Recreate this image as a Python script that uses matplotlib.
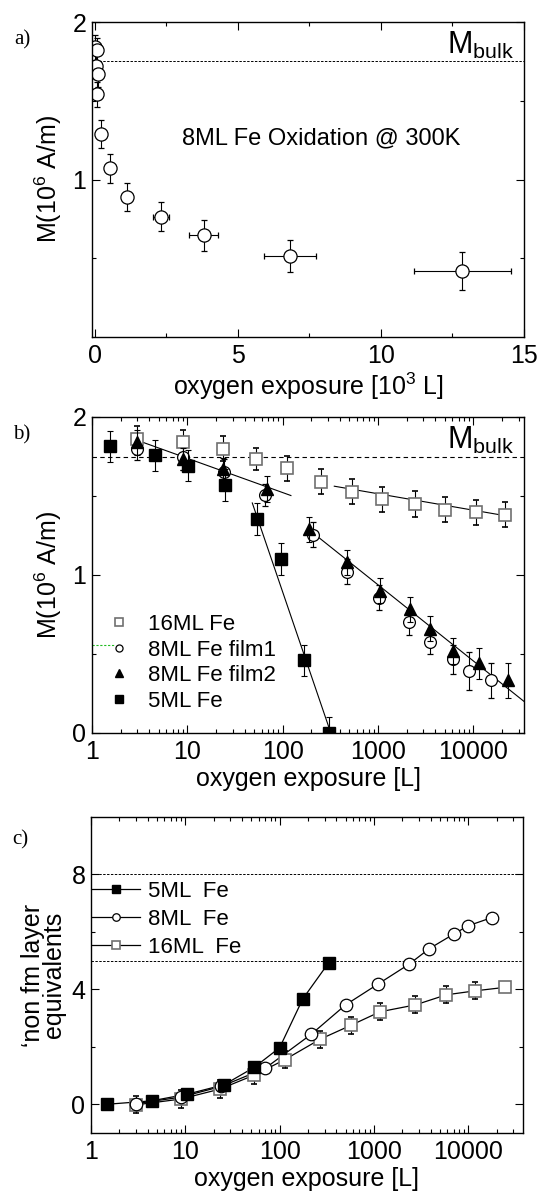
import numpy as np
import matplotlib
matplotlib.use("Agg")
import matplotlib.pyplot as plt
from matplotlib.ticker import MultipleLocator, LogLocator, NullFormatter, FixedLocator, FixedFormatter

plt.rcParams['font.family'] = ['Liberation Sans', 'DejaVu Sans']
plt.rcParams['mathtext.default'] = 'regular'
plt.rcParams['font.size'] = 18

# ---- panel a: 8ML Fe, linear exposure [10^3 L]
a_exp = [0.01, 0.06, 0.04, 0.10, 0.08, 0.22, 0.54, 1.12, 2.30, 3.80, 6.82, 12.84]
a_M = [1.84, 1.82, 1.72, 1.67, 1.54, 1.29, 1.07, 0.89, 0.765, 0.645, 0.515, 0.42]
a_xerr = [0.02, 0.03, 0.03, 0.04, 0.05, 0.06, 0.06, 0.07, 0.28, 0.50, 0.91, 1.70]
a_yerr = [0.08, 0.08, 0.08, 0.08, 0.08, 0.09, 0.09, 0.09, 0.09, 0.10, 0.10, 0.12]
M_bulk = 1.75

# ---- panel b: M vs exposure [L]
b16_exp = [3.0, 9.0, 23.4, 52, 111, 250, 533, 1090, 2440, 5100, 10600, 21300]
b16_M = [1.862, 1.84, 1.80, 1.735, 1.676, 1.59, 1.528, 1.48, 1.45, 1.414, 1.397, 1.382]
b16_err = [0.08, 0.08, 0.08, 0.07, 0.08, 0.08, 0.08, 0.08, 0.08, 0.08, 0.08, 0.08]
b16_xerr = [0.3, 0.9, 2.3, 5, 11, 25, 53, 110, 245, 510, 1060, 2130]

bf1_exp = [3.0, 9.0, 24, 66, 208, 470, 1020, 2125, 3550, 6130, 9000, 15400]
bf1_M = [1.80, 1.746, 1.655, 1.507, 1.255, 1.02, 0.857, 0.70, 0.578, 0.466, 0.39, 0.333]
bf1_err = [0.07, 0.08, 0.08, 0.07, 0.08, 0.08, 0.08, 0.08, 0.08, 0.09, 0.12, 0.11]

bf2_exp = [3.0, 8.9, 23.6, 67.7, 191, 470, 1040, 2160, 3550, 6130, 11500, 23000]
bf2_M = [1.84, 1.735, 1.672, 1.545, 1.29, 1.08, 0.90, 0.783, 0.66, 0.519, 0.44, 0.333]
bf2_err = [0.08, 0.07, 0.07, 0.08, 0.08, 0.08, 0.08, 0.08, 0.08, 0.08, 0.10, 0.11]

b5_exp = [1.53, 4.59, 10.2, 25, 54, 97, 167, 305]
b5_M = [1.814, 1.757, 1.693, 1.57, 1.355, 1.10, 0.46, 0.0]
b5_err = [0.10, 0.10, 0.10, 0.10, 0.10, 0.10, 0.10, 0.10]

# linear-in-log fits drawn through the data
fit1_exp, fit1_M = [3.0, 122], [1.852, 1.503]
fit5_exp, fit5_M = [48, 320], [1.456, 0.0]
fit8_exp, fit8_M = [195, 34000], [1.28, 0.20]
fit16_exp, fit16_M = [348, 21300], [1.562, 1.376]

# ---- panel c: non fm layer equivalents
c5_exp = [1.48, 4.4, 10.4, 25.8, 54, 100, 176, 330]
c5_N = [0.0, 0.12, 0.35, 0.68, 1.29, 1.97, 3.67, 4.92]
c8_exp = [3.0, 9.0, 24, 70, 217, 500, 1110, 2340, 3870, 6970, 9900, 17800]
c8_N = [0.02, 0.25, 0.62, 1.25, 2.44, 3.46, 4.19, 4.87, 5.42, 5.92, 6.21, 6.50]
c8_err = [0.1, 0.1, 0.1, 0.1, 0.1, 0.1, 0.1, 0.1, 0.1, 0.1, 0.1, 0.1]
c16_exp = [2.98, 8.9, 23.4, 54, 113, 267, 570, 1160, 2750, 5840, 11900, 24500]
c16_N = [-0.02, 0.18, 0.53, 1.02, 1.55, 2.26, 2.75, 3.22, 3.46, 3.81, 3.95, 4.07]
c16_err = [0.3, 0.3, 0.3, 0.3, 0.3, 0.3, 0.3, 0.3, 0.3, 0.3, 0.3, 0.0]
c_levels = [8, 5]

gray = '#707070'
fig = plt.figure(figsize=(5.38, 11.96), dpi=100)
W, H = 538.0, 1196.0


def box(l, r, t, b):
    return [l / W, 1 - b / H, (r - l) / W, (b - t) / H]


def style(ax):
    ax.tick_params(which='both', direction='in', top=True, right=True, width=0.8)
    ax.tick_params(which='major', length=6)
    ax.tick_params(which='minor', length=3)
    ax.tick_params(axis='x', pad=5)
    ax.tick_params(axis='y', pad=4)
    for s in ax.spines.values():
        s.set_linewidth(1.0)


# ---------------- a)
ax = fig.add_axes(box(92, 524, 22, 337))
style(ax)
ax.errorbar(a_exp, a_M, yerr=a_yerr, xerr=a_xerr, fmt='o', ms=9.5, mfc='white',
            mec='black', mew=0.9, color='black', elinewidth=0.8, capsize=2.5, capthick=0.8)
ax.axhline(M_bulk, color='black', lw=0.7, ls=(0, (2.5, 1.5)), xmin=0.006)
ax.text(0.977, M_bulk + 0.045, r'M$_{bulk}$', transform=ax.get_yaxis_transform(),
        ha='right', va='baseline', fontsize=22)
ax.text(0.53, 0.63, '8ML Fe Oxidation @ 300K', transform=ax.transAxes,
        ha='center', va='center', fontsize=17)
ax.set_xlim(-0.1, 15)
ax.set_ylim(0, 2)
ax.xaxis.set_major_locator(MultipleLocator(5))
ax.xaxis.set_minor_locator(MultipleLocator(2.5))
ax.yaxis.set_major_locator(FixedLocator([1, 2]))
ax.yaxis.set_minor_locator(FixedLocator([0.5, 1.5]))
ax.set_xlabel('oxygen exposure [10$^3$ L]', labelpad=2)
ax.set_ylabel('M(10$^6$ A/m)', labelpad=6)
fig.text(22 / W, 1 - 40 / H, 'a)', family='Liberation Serif', fontsize=15, ha='center', va='center')

# ---------------- b)
ax = fig.add_axes(box(92, 524, 417, 733))
style(ax)
ax.set_xscale('log')
for fx, fy in [(fit1_exp, fit1_M), (fit5_exp, fit5_M), (fit8_exp, fit8_M), (fit16_exp, fit16_M)]:
    ax.plot(fx, fy, color='black', lw=0.8, zorder=1)
ax.axhline(M_bulk, color='black', lw=0.8, ls=(0, (4, 3)), zorder=1)
ek = dict(color='black', elinewidth=0.8, capsize=2.5, capthick=0.8, linestyle='none')
h16 = ax.errorbar(b16_exp, b16_M, yerr=b16_err, xerr=b16_xerr, marker='s', ms=8.5, mfc='white',
                  mec=gray, mew=1.2, zorder=3, **ek)
h1 = ax.errorbar(bf1_exp, bf1_M, yerr=bf1_err, marker='o', ms=8.5, mfc='white',
                 mec='black', mew=0.9, zorder=3, **ek)
h2 = ax.errorbar(bf2_exp, bf2_M, yerr=bf2_err, marker='^', ms=9, mfc='black',
                 mec='black', zorder=4, **ek)
h5 = ax.errorbar(b5_exp, b5_M, yerr=b5_err, marker='s', ms=8.5, mfc='black',
                 mec='black', zorder=4, **ek)
ax.text(0.977, M_bulk + 0.045, r'M$_{bulk}$', transform=ax.get_yaxis_transform(),
        ha='right', va='baseline', fontsize=22)
leg = ax.legend([h16[0], h1[0], h2[0], h5[0]],
                ['16ML Fe', '8ML Fe film1', '8ML Fe film2', '5ML Fe'],
                loc='upper left', bbox_to_anchor=(0.0, 0.425), frameon=False,
                markerscale=0.6, handlelength=1.0, handletextpad=0.8,
                labelspacing=0.2, borderaxespad=0.3, fontsize=16)
ax.plot([0.0, 0.05], [0.278, 0.278], transform=ax.transAxes, color='#22bb22',
        lw=0.8, ls=(0, (2, 1.5)), clip_on=False)
ax.set_xlim(1, 34000)
ax.set_ylim(0, 2)
ax.xaxis.set_major_locator(FixedLocator([1, 10, 100, 1000, 10000]))
ax.xaxis.set_major_formatter(FixedFormatter(['1', '10', '100', '1000', '10000']))
ax.xaxis.set_minor_locator(LogLocator(base=10, subs=np.arange(2, 10), numticks=20))
ax.xaxis.set_minor_formatter(NullFormatter())
ax.yaxis.set_major_locator(FixedLocator([0, 1, 2]))
ax.yaxis.set_minor_locator(FixedLocator([0.5, 1.5]))
ax.set_xlabel('oxygen exposure [L]', labelpad=2)
ax.set_ylabel('M(10$^6$ A/m)', labelpad=6)
fig.text(22 / W, 1 - 435 / H, 'b)', family='Liberation Serif', fontsize=15, ha='center', va='center')

# ---------------- c)
ax = fig.add_axes(box(91, 523, 817, 1133))
style(ax)
ax.set_xscale('log')
for lv in c_levels:
    ax.axhline(lv, color='black', lw=0.7, ls=(0, (2.5, 1.5)), zorder=1)
ax.plot(c5_exp, c5_N, color='black', lw=0.9, zorder=2)
ax.plot(c8_exp, c8_N, color='black', lw=0.9, zorder=2)
ax.plot(c16_exp, c16_N, color='black', lw=0.9, zorder=2)
ax.errorbar(c16_exp, c16_N, yerr=c16_err, fmt='s', ms=9, mfc='white', mec=gray, mew=1.2,
            color='black', elinewidth=0.8, capsize=2.5, capthick=0.8, zorder=3)
ax.errorbar(c8_exp, c8_N, yerr=c8_err, fmt='o', ms=9, mfc='white', mec='black', mew=0.9,
            color='black', elinewidth=0.8, capsize=2.5, capthick=0.8, zorder=3)
ax.plot(c5_exp, c5_N, 's', ms=9, mfc='black', mec='black', zorder=4)
l5, = ax.plot([], [], '-s', color='black', lw=0.9, ms=9, mfc='black')
l8, = ax.plot([], [], '-o', color='black', lw=0.9, ms=9, mfc='white', mew=0.9)
l16, = ax.plot([], [], '-s', color='black', lw=0.9, ms=9, mfc='white', mec=gray, mew=1.2)
ax.legend([l5, l8, l16], ['5ML  Fe', '8ML  Fe', '16ML  Fe'], loc='upper left',
          bbox_to_anchor=(-0.045, 0.86), frameon=False, markerscale=0.6,
          handlelength=2.2, handletextpad=0.35, labelspacing=0.3, fontsize=16)
ax.set_xlim(1, 38000)
ax.set_ylim(-1, 10)
ax.xaxis.set_major_locator(FixedLocator([1, 10, 100, 1000, 10000]))
ax.xaxis.set_major_formatter(FixedFormatter(['1', '10', '100', '1000', '10000']))
ax.xaxis.set_minor_locator(LogLocator(base=10, subs=np.arange(2, 10), numticks=20))
ax.xaxis.set_minor_formatter(NullFormatter())
ax.yaxis.set_major_locator(FixedLocator([0, 4, 8]))
ax.yaxis.set_minor_locator(FixedLocator([2, 6]))
ax.set_xlabel('oxygen exposure [L]', labelpad=2)
ax.set_ylabel('\u2018non fm layer\nequivalents', linespacing=0.85, labelpad=4)
fig.text(20 / W, 1 - 840 / H, 'c)', family='Liberation Serif', fontsize=15, ha='center', va='center')

fig.savefig('out.png', dpi=100)
